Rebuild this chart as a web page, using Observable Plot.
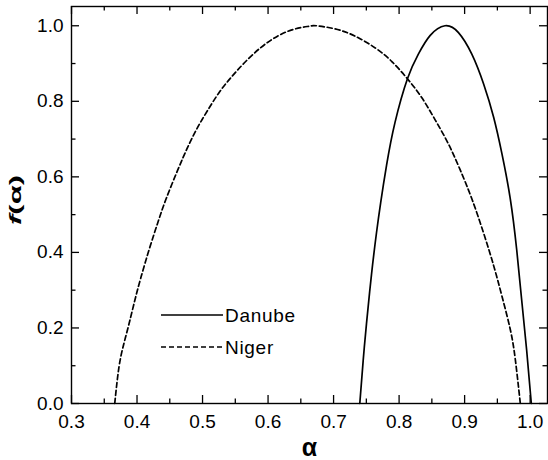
<!DOCTYPE html>
<html>
<head>
<meta charset="utf-8">
<script src="https://cdn.jsdelivr.net/npm/d3@7"></script>
<script src="https://cdn.jsdelivr.net/npm/@observablehq/plot@0.6"></script>
<style>
  html, body { margin: 0; padding: 0; background: #fff; }
</style>
</head>
<body>
<div id="wrap"></div>
<script>
// ---- data ----
const seriesNames = ["Danube", "Niger"];

const alphaNiger = [0.366, 0.3725, 0.380, 0.3878, 0.3965, 0.4057, 0.4184, 0.4312, 0.444, 0.4619, 0.4772, 0.4925, 0.5078, 0.5256, 0.5435, 0.5639, 0.5894, 0.615, 0.640, 0.6634, 0.6737, 0.7017, 0.7323, 0.763, 0.7885, 0.813, 0.8345, 0.855, 0.8753, 0.8931, 0.911, 0.929, 0.9443, 0.957, 0.9697, 0.9774, 0.985];
const fNiger     = [0.0, 0.097, 0.159, 0.211, 0.272, 0.332, 0.407, 0.476, 0.540, 0.617, 0.678, 0.731, 0.776, 0.824, 0.863, 0.902, 0.943, 0.973, 0.991, 0.999, 1.0, 0.992, 0.973, 0.942, 0.906, 0.859, 0.810, 0.751, 0.687, 0.619, 0.542, 0.451, 0.365, 0.284, 0.196, 0.116, 0.0];

const alphaDanube = [0.740, 0.7452, 0.7502, 0.7579, 0.7655, 0.7719, 0.7809, 0.7936, 0.813, 0.8294, 0.8472, 0.870, 0.8906, 0.911, 0.929, 0.9443, 0.957, 0.9697, 0.9795, 0.9871, 0.9947, 1.0018];
const fDanube     = [0.0, 0.114, 0.211, 0.342, 0.452, 0.532, 0.631, 0.743, 0.861, 0.925, 0.974, 1.0, 0.982, 0.925, 0.846, 0.758, 0.661, 0.542, 0.407, 0.274, 0.141, 0.0];

const xMajor = [0.3, 0.4, 0.5, 0.6, 0.7, 0.8, 0.9, 1.0];
const xMinor = [0.35, 0.45, 0.55, 0.65, 0.75, 0.85, 0.95];
const yMajor = [0.0, 0.2, 0.4, 0.6, 0.8, 1.0];
const yMinor = [0.1, 0.3, 0.5, 0.7, 0.9];
const xDomain = [0.3, 1.0265];
const yDomain = [0, 1.051];

// ---- build table ----
const rows = [
  ...alphaDanube.map((a, i) => ({series: "Danube", alpha: a, f: fDanube[i]})),
  ...alphaNiger.map((a, i) => ({series: "Niger", alpha: a, f: fNiger[i]}))
];

// ---- layout ----
const W = 548, H = 460;
const mL = 71, mR = 1, mT = 6, mB = 57;
const FW = W - mL - mR, FH = H - mT - mB;
const majorLen = 8, minorLen = 4.5;
const FONT = "'Liberation Sans', Arial, Helvetica, sans-serif";
const dashes = {Danube: null, Niger: "5,3"};

const tk = {stroke: "black", strokeWidth: 1.3};

const chart = Plot.plot({
  width: W,
  height: H,
  marginLeft: mL, marginRight: mR, marginTop: mT, marginBottom: mB,
  style: {fontFamily: FONT, color: "black", background: "white"},
  x: {domain: xDomain, label: null},
  y: {domain: yDomain, label: null},
  marks: [
    // tick labels
    Plot.axisX({ticks: xMajor, tickSize: 0, tickPadding: 11, tickFormat: d3.format(".1f"), fontSize: 19, letterSpacing: 0.8, fill: "black", label: null}),
    Plot.axisY({ticks: yMajor, tickSize: 0, tickPadding: 8, tickFormat: d3.format(".1f"), fontSize: 19, letterSpacing: 0.8, fill: "black", label: null}),
    // inward ticks on all four sides
    Plot.tickX(xMajor, {x: d => d, insetTop: FH - majorLen, ...tk}),
    Plot.tickX(xMinor, {x: d => d, insetTop: FH - minorLen, ...tk}),
    Plot.tickX(xMajor, {x: d => d, insetBottom: FH - majorLen, ...tk}),
    Plot.tickX(xMinor, {x: d => d, insetBottom: FH - minorLen, ...tk}),
    Plot.tickY(yMajor, {y: d => d, insetRight: FW - majorLen, ...tk}),
    Plot.tickY(yMinor, {y: d => d, insetRight: FW - minorLen, ...tk}),
    Plot.tickY(yMajor, {y: d => d, insetLeft: FW - majorLen, ...tk}),
    Plot.tickY(yMinor, {y: d => d, insetLeft: FW - minorLen, ...tk}),
    // curves
    Plot.line(rows.filter(d => d.series === "Niger"), {x: "alpha", y: "f", stroke: "black", strokeWidth: 1.7, strokeDasharray: dashes.Niger, curve: "natural"}),
    Plot.line(rows.filter(d => d.series === "Danube"), {x: "alpha", y: "f", stroke: "black", strokeWidth: 1.7, curve: "natural"}),
    Plot.frame({stroke: "black", strokeWidth: 1.4}),
    // axis titles
    Plot.text(["α"], {frameAnchor: "bottom", dy: 52, lineAnchor: "bottom", fontSize: 25, fontWeight: "bold", fill: "black"}),
    Plot.text(["f(α)"], {frameAnchor: "left", dx: -51, dy: 20, rotate: -90, lineAnchor: "bottom", fontSize: 17, fontWeight: "bold", fill: "black"})
  ]
});

// italic f in y title, stretched like the reference lettering
d3.select(chart).selectAll("text").each(function() {
  if (this.textContent === "f(α)") {
    const t = d3.select(this);
    t.text(null);
    t.append("tspan").attr("font-style", "italic").text("f");
    t.append("tspan").text("(α)");
    t.attr("textLength", 50).attr("lengthAdjust", "spacingAndGlyphs");
  }
});

// legend inside the plot area
const leg = d3.select(chart).append("g").attr("font-family", FONT).attr("text-anchor", "start");
const legX1 = 161, legX2 = 223, legY0 = 315, legStep = 32;
seriesNames.forEach((name, i) => {
  const y = legY0 + i * legStep;
  leg.append("line").attr("x1", legX1).attr("x2", legX2).attr("y1", y).attr("y2", y)
    .attr("stroke", "black").attr("stroke-width", 1.7)
    .attr("stroke-dasharray", dashes[name]);
  leg.append("text").attr("x", legX2 + 2).attr("y", y).attr("dy", "0.35em")
    .attr("font-size", 19).attr("letter-spacing", 0.7).attr("fill", "black").text(name);
});

document.getElementById("wrap").appendChild(chart);
</script>
</body>
</html>
